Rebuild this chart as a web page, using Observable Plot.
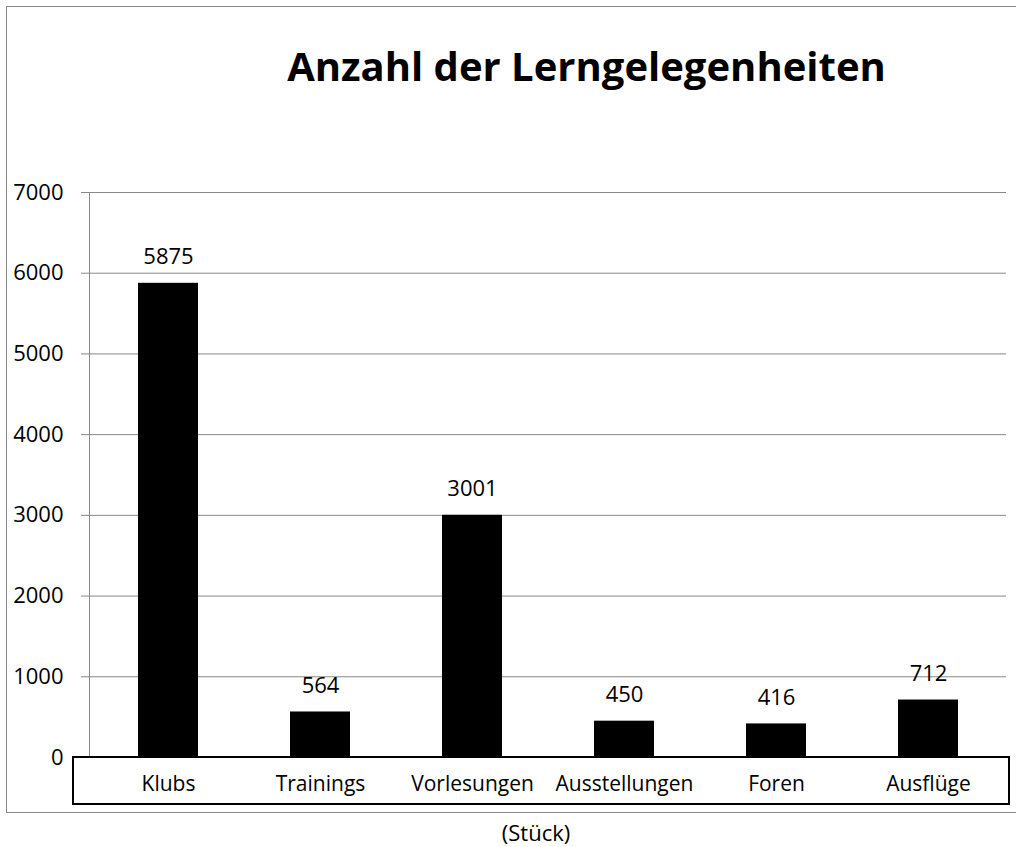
<!DOCTYPE html>
<html>
<head>
<meta charset="utf-8">
<script src="https://cdn.jsdelivr.net/npm/d3@7"></script>
<script src="https://cdn.jsdelivr.net/npm/@observablehq/plot@0.6"></script>
<style>
  html, body { margin: 0; padding: 0; background: white; }
  body { position: relative; width: 1016px; height: 847px; overflow: hidden; font-family: "Open Sans", sans-serif; }
  #frame { position: absolute; left: 6px; top: 6px; width: 1100px; height: 805px; border: 1px solid #888; }
  #title { position: absolute; left: 0; top: 46px; width: 1016px; box-sizing: border-box; padding-left: 157px;
           text-align: center; font-weight: 700; font-size: 40px; line-height: 40px; color: #000; white-space: nowrap; }
  #chart { position: absolute; left: 0; top: 140px; }
  #box { position: absolute; left: 72px; top: 756px; width: 938px; height: 49px; box-sizing: border-box; border: 2px solid #000; }
  #caption { position: absolute; left: 0; top: 820px; width: 1016px; box-sizing: border-box; padding-left: 56px;
             text-align: center; font-size: 22px; line-height: 24px; color: #000; }
</style>
</head>
<body>
<div id="frame"></div>
<div id="title">Anzahl der Lerngelegenheiten</div>
<div id="chart"></div>
<div id="box"></div>
<div id="caption">(Stück)</div>
<script>
const categories = ["Klubs", "Trainings", "Vorlesungen", "Ausstellungen", "Foren", "Ausflüge"];
const values = [5875, 564, 3001, 450, 416, 712];
const yTicks = [0, 1000, 2000, 3000, 4000, 5000, 6000, 7000];

const data = categories.map((c, i) => ({category: c, value: values[i]}));

const chart = Plot.plot({
  width: 1016,
  height: 672,
  marginLeft: 89,
  marginRight: 10,
  marginTop: 52,
  marginBottom: 55,
  style: {background: "transparent", fontFamily: "Open Sans, sans-serif", color: "#000"},
  x: {domain: categories, type: "band", paddingInner: 0.607, paddingOuter: 0.3035, axis: null},
  y: {domain: [0, 7000], axis: null},
  marks: [
    Plot.ruleY(yTicks, {y: d => d, stroke: "#888", strokeWidth: 1, insetLeft: -8}),
    Plot.frame({anchor: "left", stroke: "#888", strokeWidth: 1}),
    Plot.axisY({ticks: yTicks, tickSize: 0, tickPadding: 26, fontSize: 22, label: null, tickFormat: d => String(d)}),
    Plot.barY(data, {x: "category", y: "value", fill: "#000"}),
    Plot.text(data, {x: "category", y: "value", text: d => String(d.value), dy: -26, lineAnchor: "middle", fontSize: 22, fill: "#000"}),
    Plot.text(categories, {x: d => d, frameAnchor: "bottom", dy: 27, lineAnchor: "middle", fontSize: 21, fill: "#000"})
  ]
});
document.getElementById("chart").appendChild(chart);
</script>
</body>
</html>
